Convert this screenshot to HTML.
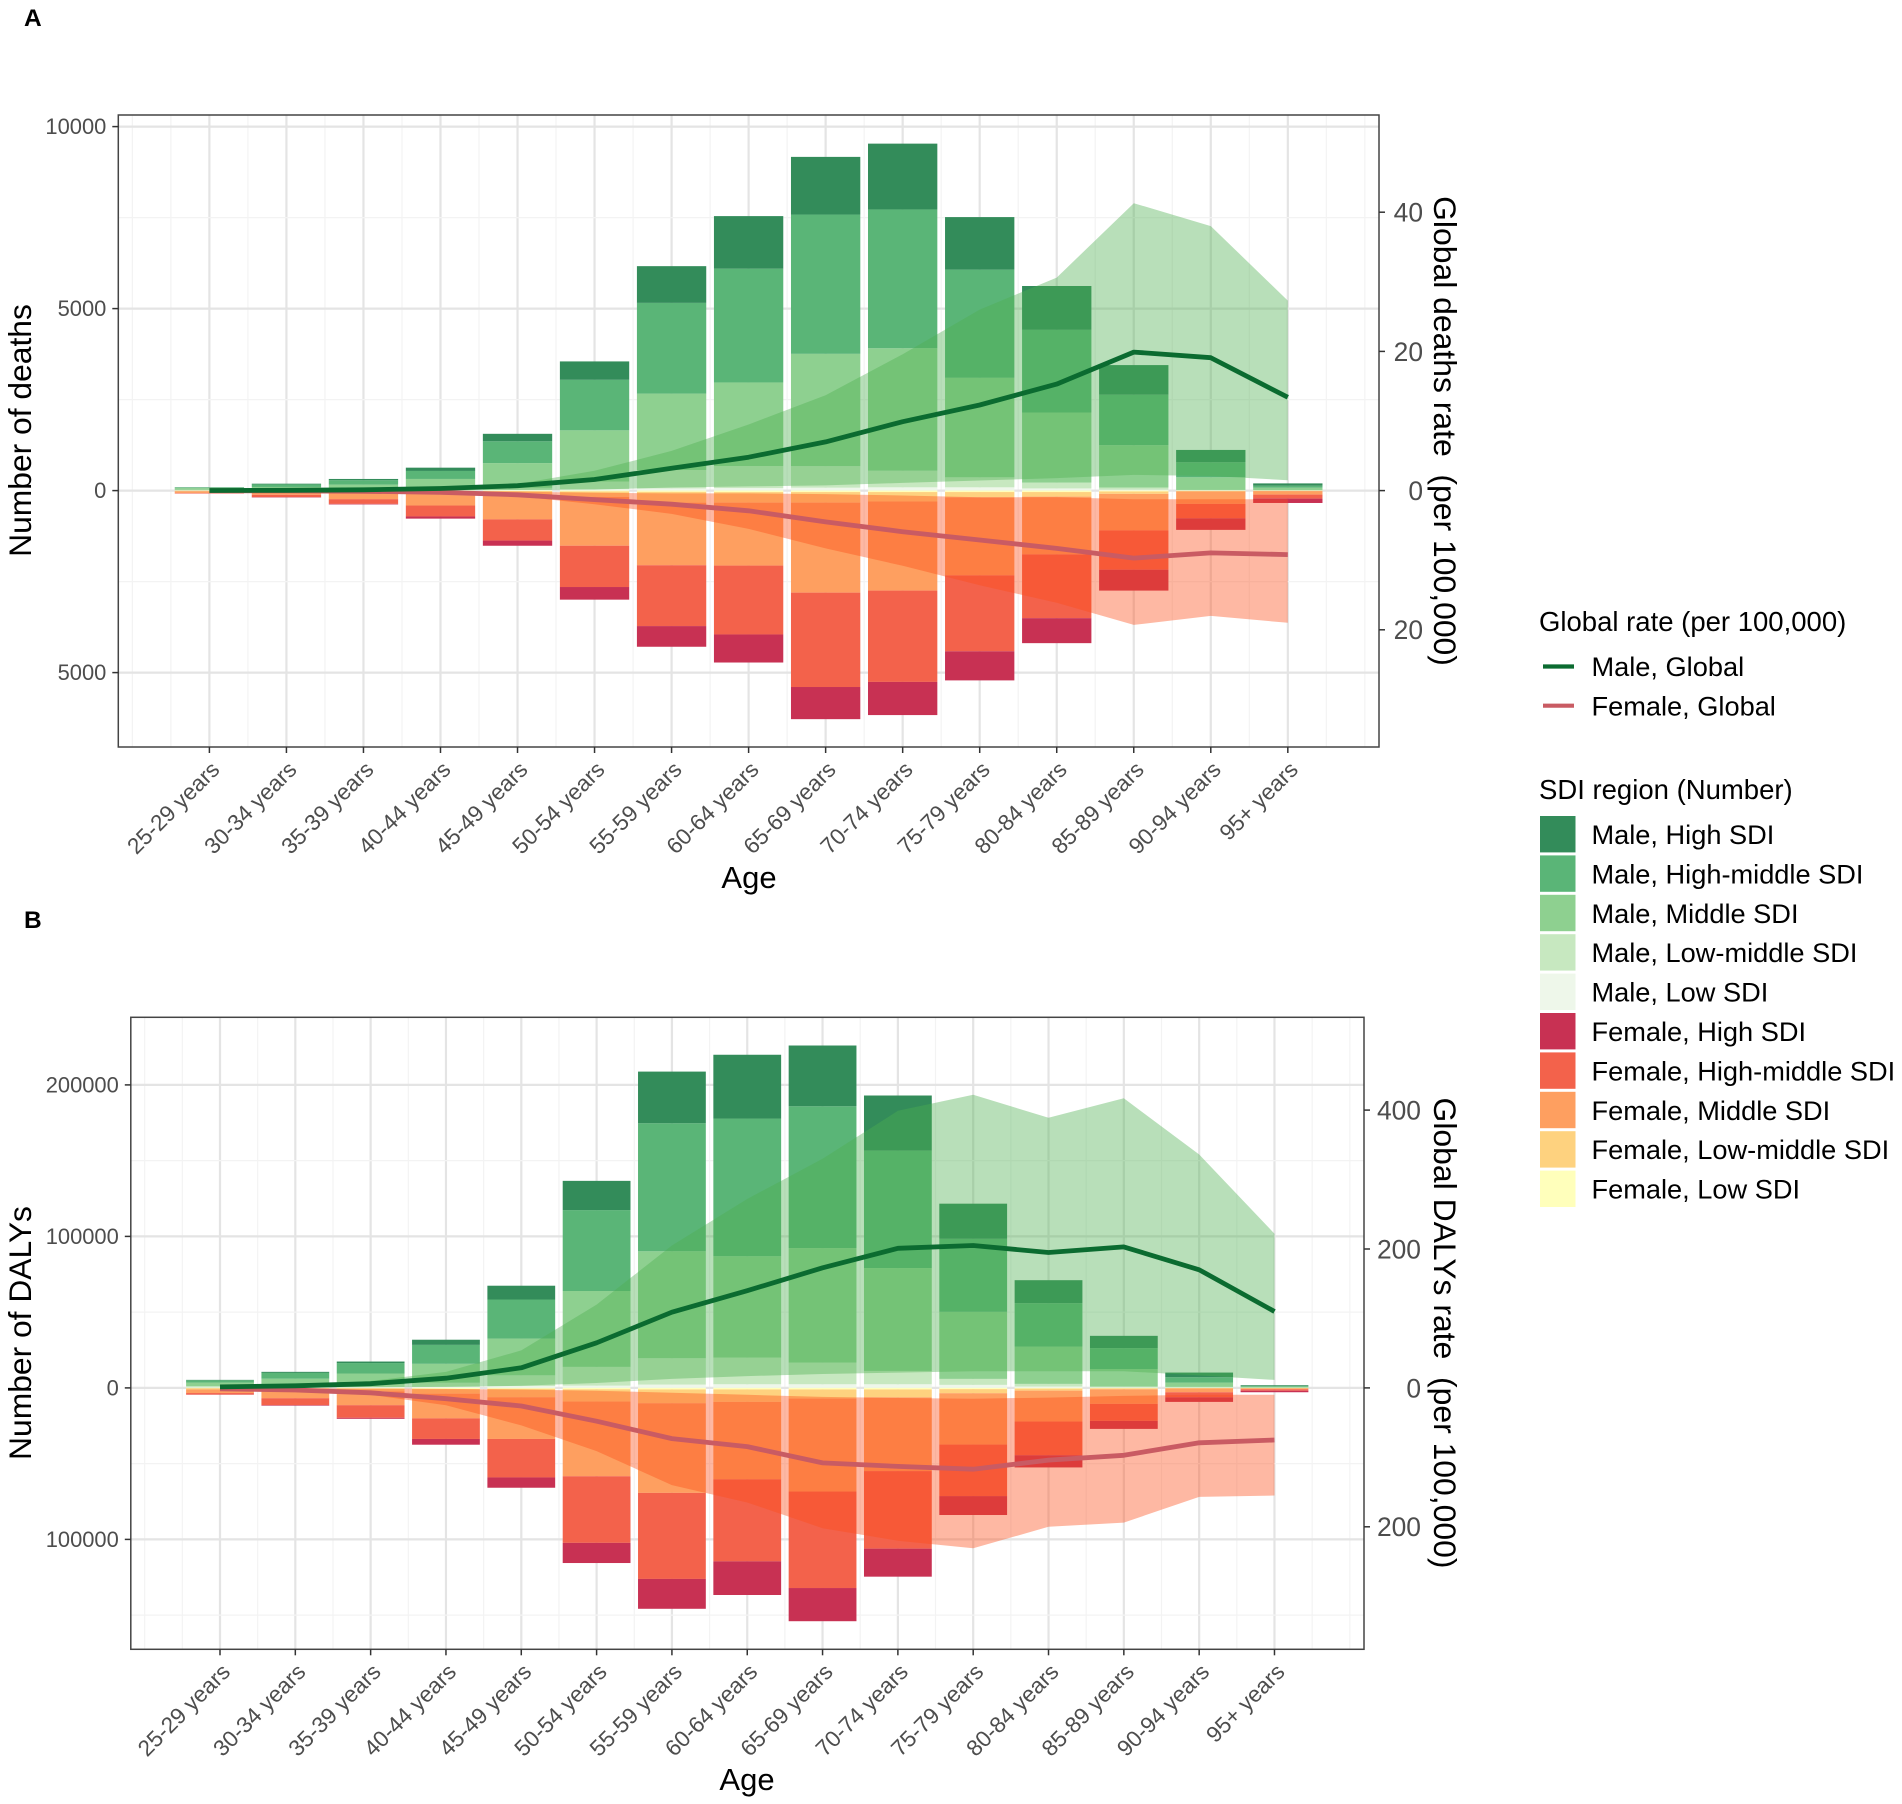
<!DOCTYPE html>
<html lang="en">
<head>
<meta charset="utf-8">
<title>Deaths and DALYs by age, sex and SDI region</title>
<style>
html,body{margin:0;padding:0;background:#fff;}
svg{display:block;font-family:"Liberation Sans",sans-serif;}
</style>
</head>
<body>
<svg id="chart" xmlns="http://www.w3.org/2000/svg" width="1902" height="1804" viewBox="0 0 1902 1804">
  <rect x="0" y="0" width="1902" height="1804" fill="#ffffff"/>
  <text x="24" y="26" font-size="24.5" font-weight="bold" fill="#000">A</text>
  <text x="24" y="928" font-size="24.5" font-weight="bold" fill="#000">B</text>

  <g id="panelA"></g>
  <g id="panelB"></g>

  <text transform="translate(31,430.5) rotate(-90)" text-anchor="middle" font-size="31.8" fill="#000">Number of deaths</text>
  <text transform="translate(1434,431) rotate(90)" text-anchor="middle" font-size="31.9" fill="#000" xml:space="preserve">Global deaths rate  (per 100,000)</text>
  <text x="749" y="888" text-anchor="middle" font-size="31" fill="#000">Age</text>

  <text transform="translate(31,1333) rotate(-90)" text-anchor="middle" font-size="31.8" fill="#000">Number of DALYs</text>
  <text transform="translate(1434,1333) rotate(90)" text-anchor="middle" font-size="31.9" fill="#000" xml:space="preserve">Global DALYs rate  (per 100,000)</text>
  <text x="747" y="1790" text-anchor="middle" font-size="31" fill="#000">Age</text>

  <g font-size="27.2" fill="#000">
    <text x="1539" y="631" font-size="27.5">Global rate (per 100,000)</text>
    <line x1="1543" x2="1574" y1="666.5" y2="666.5" stroke="#0b6b30" stroke-width="4.2"/>
    <text x="1591.5" y="676">Male, Global</text>
    <line x1="1543" x2="1574" y1="705.7" y2="705.7" stroke="#c95b63" stroke-width="4.2"/>
    <text x="1591.5" y="715.5">Female, Global</text>
  </g>
  <g font-size="27.2" fill="#000">
    <text x="1539" y="799" font-size="27.5">SDI region (Number)</text>
    <rect x="1540" y="816" width="35.5" height="36.4" fill="#338c5a"/>
    <text x="1591.5" y="844">Male, High SDI</text>
    <rect x="1540" y="855.4" width="35.5" height="36.4" fill="#5ab577"/>
    <text x="1591.5" y="883.4">Male, High-middle SDI</text>
    <rect x="1540" y="894.8" width="35.5" height="36.4" fill="#8ed090"/>
    <text x="1591.5" y="922.8">Male, Middle SDI</text>
    <rect x="1540" y="934.2" width="35.5" height="36.4" fill="#c7e8c0"/>
    <text x="1591.5" y="962.2">Male, Low-middle SDI</text>
    <rect x="1540" y="973.6" width="35.5" height="36.4" fill="#eef7ea"/>
    <text x="1591.5" y="1001.6">Male, Low SDI</text>
    <rect x="1540" y="1013" width="35.5" height="36.4" fill="#c83153"/>
    <text x="1591.5" y="1041">Female, High SDI</text>
    <rect x="1540" y="1052.4" width="35.5" height="36.4" fill="#f3624b"/>
    <text x="1591.5" y="1080.4">Female, High-middle SDI</text>
    <rect x="1540" y="1091.8" width="35.5" height="36.4" fill="#fe9f60"/>
    <text x="1591.5" y="1119.8">Female, Middle SDI</text>
    <rect x="1540" y="1131.2" width="35.5" height="36.4" fill="#fed27f"/>
    <text x="1591.5" y="1159.2">Female, Low-middle SDI</text>
    <rect x="1540" y="1170.6" width="35.5" height="36.4" fill="#ffffbb"/>
    <text x="1591.5" y="1198.6">Female, Low SDI</text>
  </g>
</svg>

<script>
// ---------- Shared categories ----------
const ageGroups = ["25-29 years","30-34 years","35-39 years","40-44 years","45-49 years","50-54 years","55-59 years","60-64 years","65-69 years","70-74 years","75-79 years","80-84 years","85-89 years","90-94 years","95+ years"];

// ---------- Panel A: deaths (number) ----------
const deathsMaleLow        = [5,5,5,10,15,40,60,70,80,90,90,60,25,8,5];
const deathsMaleLowMiddle  = [15,15,30,50,60,210,506,606,593,457,275,160,60,10,10];
const deathsMaleMiddle     = [50,80,130,260,680,1406,2099,2295,3084,3364,2733,1925,1162,348,64];
const deathsMaleHighMiddle = [15,70,120,220,600,1388,2492,3126,3827,3813,2972,2271,1388,412,55];
const deathsMaleHigh       = [5,20,35,90,205,505,1009,1444,1584,1808,1444,1205,813,339,64];
const deathsFemaleLow        = [3,5,5,8,12,25,35,40,40,40,40,40,25,8,3];
const deathsFemaleLowMiddle  = [15,20,25,45,85,145,295,290,290,260,145,125,65,15,10];
const deathsFemaleMiddle     = [47,90,205,357,693,1344,1720,1730,2473,2447,2142,1587,1003,343,97];
const deathsFemaleHighMiddle = [15,65,130,300,583,1135,1672,1892,2593,2509,2088,1752,1079,394,110];
const deathsFemaleHigh       = [0,10,15,60,142,347,568,771,883,911,799,687,575,319,120];
const deathsRateMale       = [0.02,0.05,0.12,0.3,0.7,1.6,3.2,4.8,7,9.9,12.3,15.3,19.9,19.1,13.4];
const deathsRateMaleUpper  = [0.02,0.05,0.15,0.4,0.95,2.85,5.7,9.5,13.7,19.6,26,30.6,41.3,38,27.3];
const deathsRateMaleLower  = [0,0.01,0.02,0.04,0.08,0.15,0.45,0.6,0.75,1.1,1.45,1.8,2.25,2.1,1.5];
const deathsRateFemale      = [-0.01,-0.04,-0.1,-0.25,-0.6,-1.3,-1.95,-2.9,-4.5,-5.9,-7.1,-8.3,-9.7,-8.95,-9.2];
const deathsRateFemaleUpper = [0,-0.01,-0.03,-0.06,-0.15,-0.3,-0.4,-0.4,-0.5,-0.7,-0.95,-0.95,-1.25,-1.25,-1.25];
const deathsRateFemaleLower = [-0.02,-0.06,-0.15,-0.35,-0.8,-1.95,-3.35,-5.5,-8.3,-10.8,-13.6,-16.1,-19.3,-18,-19];
const deathsLeftTicks   = [10000,5000,0,-5000];
const deathsLeftMinor   = [7500,2500,-2500];
const deathsRightTicks  = [40,20,0,-20];

// ---------- Panel B: DALYs (number) ----------
const dalysMaleLow        = [300,400,600,700,1200,1500,2200,2400,2400,2400,2000,900,300,100,60];
const dalysMaleLowMiddle  = [800,1400,1700,2700,7100,12360,17380,17600,14300,8800,3940,1740,600,560,200];
const dalysMaleMiddle     = [2400,4300,7200,12500,24250,50100,70600,66900,75600,67900,44260,24660,11560,2860,500];
const dalysMaleHighMiddle = [1500,3800,6900,12500,25800,53400,84500,90900,93600,77500,48200,28600,13800,3520,500];
const dalysMaleHigh       = [300,700,1000,3400,9100,19300,34100,42100,40100,36400,23200,15200,8100,3080,500];
const dalysFemaleLow        = [200,300,500,800,600,900,1000,1000,1000,1000,800,500,300,100,60];
const dalysFemaleLowMiddle  = [800,1200,1800,3000,5560,8100,9120,8240,6040,5200,2700,1300,600,300,300];
const dalysFemaleMiddle     = [2400,5300,9100,16300,27540,49300,59180,51060,61360,48700,33900,20400,9660,2460,500];
const dalysFemaleHighMiddle = [1000,4500,8300,13600,25400,44000,56800,54200,63700,51200,34000,22200,11220,3300,1000];
const dalysFemaleHigh       = [100,400,700,3800,6800,13300,19700,22200,21900,18500,12500,8100,5280,3080,1000];
const dalysRateMale       = [1.5,3,6,14,29,65,109,140,173,201,205,195,203,170,110];
const dalysRateMaleUpper  = [2,4,10,23,54,120,205,272,330,399,422,389,417,336,222];
const dalysRateMaleLower  = [0.2,0.4,0.8,1.5,3,7,13,17,20,22,24,24,24,18,11.5];
const dalysRateFemale      = [-1.5,-3,-7,-15.6,-26,-48,-73,-84.5,-108,-113,-117,-104,-97,-79,-75];
const dalysRateFemaleUpper = [-0.2,-0.4,-0.8,-1.5,-2.5,-4,-7,-10,-13,-14.5,-15.5,-14,-11.5,-10,-10];
const dalysRateFemaleLower = [-2,-4,-10,-25,-54,-91,-140,-165,-202,-220,-231,-200,-194,-157,-155];
const dalysLeftTicks   = [200000,100000,0,-100000];
const dalysLeftMinor   = [150000,50000,-50000,-150000];
const dalysRightTicks  = [400,200,0,-200];

const maleSegments = [
  {key:"low", color:"#eef7ea"},
  {key:"low-middle", color:"#c7e8c0"},
  {key:"middle", color:"#8ed090"},
  {key:"high-middle", color:"#5ab577"},
  {key:"high", color:"#338c5a"}
];
const femaleSegments = [
  {key:"low", color:"#ffffbb"},
  {key:"low-middle", color:"#fed27f"},
  {key:"middle", color:"#fe9f60"},
  {key:"high-middle", color:"#f3624b"},
  {key:"high", color:"#c83153"}
];

const NS = "http://www.w3.org/2000/svg";
function make(parent, tag, attrs) {
  const el = document.createElementNS(NS, tag);
  for (const k in attrs) el.setAttribute(k, attrs[k]);
  parent.appendChild(el);
  return el;
}

function drawPanel(root, prefix, box, maleSeries, femaleSeries, rates, ticks) {
  const xAt = i => box.x0 + box.xStep * i;
  const yLeft = v => box.yZero - v * box.leftScale;
  const yRight = v => box.yZero - v * box.rightScale;
  const barW = box.xStep * 0.9;

  const grid = make(root, "g", {});
  
  

  for (let i = -1; i <= 15; i += 0.5) {
    const major = Number.isInteger(i) && i >= 0 && i < ageGroups.length;
    const px = xAt(i);
    if (px <= box.left || px >= box.right) continue;
    const g = make(grid, "line", {x1:px, x2:px, y1:box.top, y2:box.bottom, stroke: major ? "#e4e4e4" : "#f3f3f3", "stroke-width": major ? 2.2 : 1.2});
    
    
  }
  ticks.leftMinor.forEach(v => {
    const g = make(grid, "line", {x1:box.left, x2:box.right, y1:yLeft(v), y2:yLeft(v), stroke:"#f3f3f3", "stroke-width":1.2});
    
    
  });
  ticks.left.forEach(v => {
    const g = make(grid, "line", {x1:box.left, x2:box.right, y1:yLeft(v), y2:yLeft(v), stroke:"#e4e4e4", "stroke-width":2.2});
    
    
  });

  // Stacked bars
  function stack(seriesList, segments, sign, sex) {
    ageGroups.forEach((age, i) => {
      let acc = 0;
      seriesList.forEach((series, s) => {
        const v = series[i];
        const y1 = yLeft(sign * acc);
        const y2 = yLeft(sign * (acc + v));
        acc += v;
        const r = make(root, "rect", {x: xAt(i) - barW / 2, y: Math.min(y1, y2), width: barW, height: Math.abs(y2 - y1), fill: segments[s].color});
        
        
      });
    });
  }
  stack(maleSeries, maleSegments, 1, 'male');
  stack(femaleSeries, femaleSegments, -1, 'female');

  // Uncertainty ribbons
  function ribbon(upper, lower, fill, name) {
    const top = upper.map((v, i) => xAt(i).toFixed(1) + "," + yRight(v).toFixed(1));
    const bot = lower.map((v, i) => xAt(i).toFixed(1) + "," + yRight(v).toFixed(1)).reverse();
    const p = make(root, "polygon", {points: top.concat(bot).join(" "), fill: fill, "fill-opacity": 0.4});
    
    
  }
  ribbon(rates.maleUpper, rates.maleLower, "#4daf4f", prefix + '-male-ribbon');
  ribbon(rates.femaleUpper, rates.femaleLower, "#fd4e19", prefix + '-female-ribbon');

  // Rate lines
  function rateLine(values, stroke, name) {
    const pts = values.map((v, i) => xAt(i).toFixed(1) + "," + yRight(v).toFixed(1)).join(" ");
    const l = make(root, "polyline", {points: pts, fill: "none", stroke: stroke, "stroke-width": 4.8, "stroke-linejoin": "round"});
    
    
  }
  rateLine(rates.female, "#c95b63", prefix + '-female-rate-line');
  rateLine(rates.male, "#0b6b30", prefix + '-male-rate-line');

  // Panel border
  const border = make(root, "rect", {x: box.left, y: box.top, width: box.right - box.left, height: box.bottom - box.top, fill: "none", stroke: "#444", "stroke-width": 1.5});
  
  

  // Left axis
  ticks.left.forEach(v => {
    const t = make(root, "line", {x1: box.left - 6, x2: box.left, y1: yLeft(v), y2: yLeft(v), stroke: "#333", "stroke-width": 1.5});
    
    
    const lab = make(root, "text", {x: box.left - 12, y: yLeft(v) + 7.6, "text-anchor": "end", "font-size": 21.9, fill: "#4d4d4d"});
    lab.textContent = String(Math.abs(v));
    
    
  });
  // Right axis
  ticks.right.forEach(v => {
    const t = make(root, "line", {x1: box.right, x2: box.right + 6, y1: yRight(v), y2: yRight(v), stroke: "#333", "stroke-width": 1.5});
    
    
    const lab = make(root, "text", {x: box.rightLabelEnd, y: yRight(v) + 9.4, "text-anchor": "end", "font-size": 26.4, fill: "#4d4d4d"});
    lab.textContent = String(Math.abs(v));
    
    
  });
  // X axis
  ageGroups.forEach((age, i) => {
    const t = make(root, "line", {x1: xAt(i), x2: xAt(i), y1: box.bottom, y2: box.bottom + 6, stroke: "#333", "stroke-width": 1.5});
    
    
    const lab = make(root, "text", {transform: "translate(" + (xAt(i) + 11.5) + "," + (box.bottom + 24) + ") rotate(-45)", "text-anchor": "end", "font-size": 22.6, fill: "#4d4d4d"});
    lab.textContent = age;
    
    
  });
}

drawPanel(document.getElementById("panelA"), "deaths",
  {left:118.3, right:1379, top:115, bottom:747, x0:209.4, xStep:77.03, yZero:490.6, leftScale:0.0364, rightScale:6.96, rightLabelEnd:1423},
  [deathsMaleLow, deathsMaleLowMiddle, deathsMaleMiddle, deathsMaleHighMiddle, deathsMaleHigh],
  [deathsFemaleLow, deathsFemaleLowMiddle, deathsFemaleMiddle, deathsFemaleHighMiddle, deathsFemaleHigh],
  {male:deathsRateMale, maleUpper:deathsRateMaleUpper, maleLower:deathsRateMaleLower, female:deathsRateFemale, femaleUpper:deathsRateFemaleUpper, femaleLower:deathsRateFemaleLower},
  {left:deathsLeftTicks, leftMinor:deathsLeftMinor, right:deathsRightTicks});

drawPanel(document.getElementById("panelB"), "dalys",
  {left:130.8, right:1364, top:1017.3, bottom:1649.3, x0:220, xStep:75.32, yZero:1387.9, leftScale:0.001515, rightScale:0.6945, rightLabelEnd:1421},
  [dalysMaleLow, dalysMaleLowMiddle, dalysMaleMiddle, dalysMaleHighMiddle, dalysMaleHigh],
  [dalysFemaleLow, dalysFemaleLowMiddle, dalysFemaleMiddle, dalysFemaleHighMiddle, dalysFemaleHigh],
  {male:dalysRateMale, maleUpper:dalysRateMaleUpper, maleLower:dalysRateMaleLower, female:dalysRateFemale, femaleUpper:dalysRateFemaleUpper, femaleLower:dalysRateFemaleLower},
  {left:dalysLeftTicks, leftMinor:dalysLeftMinor, right:dalysRightTicks});
</script>
</body>
</html>
